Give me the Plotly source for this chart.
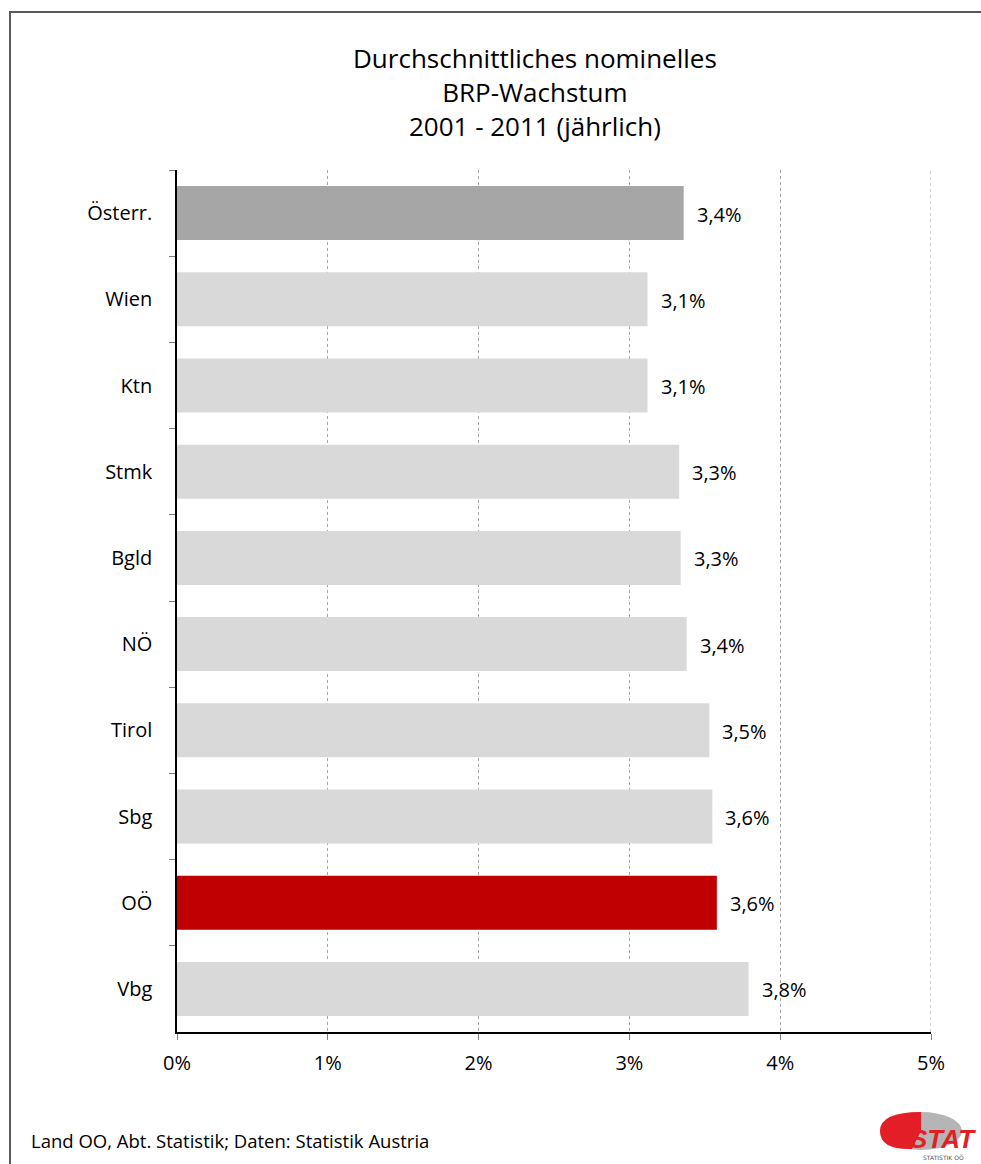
import plotly.graph_objects as go

categories = ["Österr.", "Wien", "Ktn", "Stmk", "Bgld", "NÖ", "Tirol", "Sbg", "OÖ", "Vbg"]
values = [3.36, 3.12, 3.12, 3.33, 3.34, 3.38, 3.53, 3.55, 3.58, 3.79]
labels = ["3,4%", "3,1%", "3,1%", "3,3%", "3,3%", "3,4%", "3,5%", "3,6%", "3,6%", "3,8%"]
colors = ["#A6A6A6", "#D9D9D9", "#D9D9D9", "#D9D9D9", "#D9D9D9", "#D9D9D9", "#D9D9D9", "#D9D9D9", "#C00000", "#D9D9D9"]
xticks = [0, 1, 2, 3, 4, 5]
xticklabels = ["0%", "1%", "2%", "3%", "4%", "5%"]
title_lines = ["Durchschnittliches nominelles", "BRP-Wachstum", "2001 - 2011 (jährlich)"]
footer = "Land OO, Abt. Statistik; Daten: Statistik Austria"

W, H = 981, 1164
L, R, T, B = 177, 50, 170, 132
PW, PH = W - L - R, H - T - B

def px(x):
    return (x - L) / PW

def py(y):
    return (H - B - y) / PH

FONT = "Open Sans"

fig = go.Figure(go.Bar(
    x=values, y=categories, orientation="h",
    marker=dict(color=colors, line=dict(width=0)),
    hoverinfo="skip",
))

annotations = []
for v, lab, c in zip(values, labels, categories):
    annotations.append(dict(x=v, y=c, xref="x", yref="y", text=lab, showarrow=False,
                            xanchor="left", yanchor="middle", xshift=11, yshift=-1,
                            font=dict(family=FONT, size=20, color="#000000")))

annotations.append(dict(x=px(535), y=py(92), xref="paper", yref="paper",
                        text="<br>".join(title_lines), showarrow=False,
                        xanchor="center", yanchor="middle",
                        font=dict(family=FONT, size=26, color="#000000")))
annotations.append(dict(x=px(29), y=py(1140), xref="paper", yref="paper",
                        text=footer, showarrow=False, xanchor="left", yanchor="middle",
                        font=dict(family=FONT, size=18.5, color="#000000")))
# logo text
annotations.append(dict(x=px(943), y=py(1139), xref="paper", yref="paper",
                        text="<b><i>STAT</i></b>", showarrow=False, xanchor="center", yanchor="middle",
                        font=dict(family="Liberation Sans", size=26, color="#E41E26")))
annotations.append(dict(x=px(944), y=py(1157), xref="paper", yref="paper",
                        text="STATISTIK OÖ", showarrow=False, xanchor="center", yanchor="middle",
                        font=dict(family="DejaVu Sans", size=6, color="#555555")))

shapes = [
    dict(type="rect", xref="paper", yref="paper",
         x0=px(10), x1=px(1000), y0=py(1200), y1=py(12),
         line=dict(color="#595959", width=2), fillcolor="rgba(0,0,0,0)", layer="below"),
    dict(type="line", xref="x", yref="paper", x0=5, x1=5, y0=0, y1=1,
         line=dict(color="#A6A6A6", width=1, dash="3px,3px"), layer="below"),
    dict(type="circle", xref="paper", yref="paper",
         x0=px(880), x1=px(962), y0=py(1150), y1=py(1112),
         line=dict(width=0), fillcolor="#B5B5B5", layer="above"),
    dict(type="path", xref="paper", yref="paper",
         path=f"M {px(921)},{py(1131)} L {px(921)},{py(1112)} "
              f"Q {px(880)},{py(1112)} {px(880)},{py(1131)} "
              f"Q {px(880)},{py(1150)} {px(912)},{py(1149)} Z",
         line=dict(width=0), fillcolor="#E41E26", layer="above"),
]

fig.update_layout(
    width=W, height=H,
    margin=dict(l=L, r=R, t=T, b=B, pad=0),
    paper_bgcolor="white", plot_bgcolor="white",
    bargap=0.373,
    showlegend=False,
    annotations=annotations,
    shapes=shapes,
    xaxis=dict(range=[0, 5], tickvals=xticks, ticktext=xticklabels,
               showgrid=True, gridcolor="#A6A6A6", griddash="3px,3px", gridwidth=1,
               zeroline=False, showline=True, linecolor="#000000", linewidth=1.5,
               ticks="outside", ticklen=6, tickcolor="#808080", ticklabelstandoff=6,
               tickfont=dict(family=FONT, size=20, color="#000000"), fixedrange=True),
    yaxis=dict(categoryorder="array", categoryarray=categories, autorange="reversed",
               showgrid=False, zeroline=False, showline=True, linecolor="#000000", linewidth=1.5,
               ticks="outside", ticklen=6, tickcolor="#808080", tickson="boundaries",
               ticklabelstandoff=19,
               tickfont=dict(family=FONT, size=20, color="#000000"), fixedrange=True),
)

fig.write_html("out.html")
